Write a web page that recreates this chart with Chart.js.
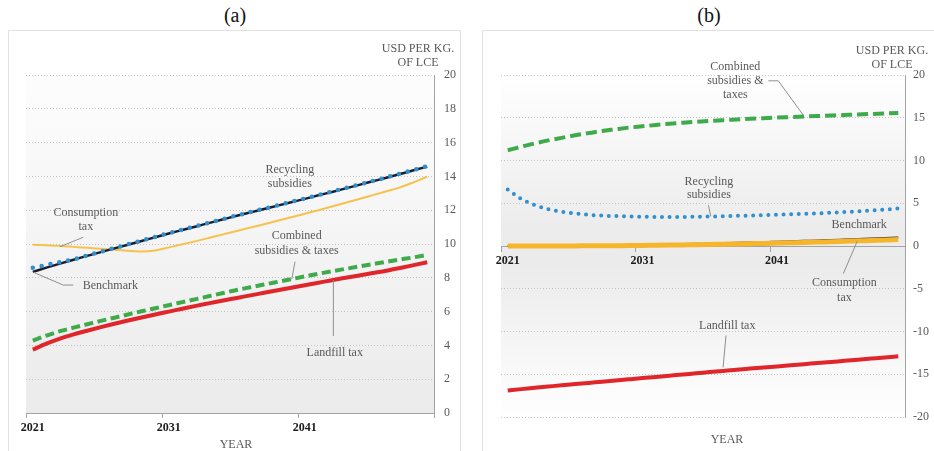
<!DOCTYPE html>
<html>
<head>
<meta charset="utf-8">
<script src="https://cdn.jsdelivr.net/npm/chart.js@4.4.1/dist/chart.umd.min.js"></script>
<style>
  body { margin: 0; width: 934px; height: 451px; position: relative; overflow: hidden; background: #fff; font-family: 'Liberation Serif', 'Times New Roman', serif; }
  .box { position: absolute; top: 30px; width: 453px; height: 440px; border: 1px solid #e2e2e2; box-sizing: border-box; background: #fff; }
  canvas { position: absolute; top: 31px; }
  .ttl { position: absolute; top: 4px; width: 60px; text-align: center; font-size: 20px; color: #111; }
  .unit { position: absolute; width: 100px; text-align: center; font-size: 12px; line-height: 14px; color: #595959; }
  .xname { position: absolute; width: 60px; text-align: center; font-size: 12px; color: #595959; }
</style>
</head>
<body>
<div class="box" style="left:8px"></div>
<div class="box" style="left:482px; width:460px"></div>
<div class="ttl" style="left:205px">(a)</div>
<div class="ttl" style="left:679px">(b)</div>
<canvas id="chartA" width="452" height="420" style="left:9px"></canvas>
<canvas id="chartB" width="452" height="420" style="left:482px"></canvas>
<div class="unit" style="left:368px; top:41px">USD PER KG.<br>OF LCE</div>
<div class="unit" style="left:842px; top:43px">USD PER KG.<br>OF LCE</div>
<div class="xname" style="left:206px; top:437px">YEAR</div>
<div class="xname" style="left:697px; top:432px">YEAR</div>
<script>
const years = ['2021', '2022', '2023', '2024', '2025', '2026', '2027', '2028', '2029', '2030',
  '2031', '2032', '2033', '2034', '2035', '2036', '2037', '2038', '2039', '2040',
  '2041', '2042', '2043', '2044', '2045', '2046', '2047', '2048', '2049', '2050'];

// panel (a)
const benchA = [8.35, 8.6, 8.84, 9.07, 9.3, 9.52, 9.74, 9.96, 10.18, 10.4,
  10.62, 10.83, 11.04, 11.25, 11.46, 11.67, 11.87, 12.07, 12.27, 12.47,
  12.67, 12.88, 13.08, 13.29, 13.5, 13.71, 13.92, 14.14, 14.36, 14.58];
const recycA = [8.6, 8.76, 8.93, 9.1, 9.32, 9.54, 9.76, 9.98, 10.2, 10.42,
  10.64, 10.85, 11.06, 11.27, 11.48, 11.69, 11.89, 12.09, 12.29, 12.49,
  12.69, 12.9, 13.1, 13.31, 13.52, 13.73, 13.94, 14.16, 14.38, 14.6];
const consA = [9.95, 9.92, 9.88, 9.83, 9.78, 9.72, 9.66, 9.6, 9.56, 9.62,
  9.8, 9.98, 10.17, 10.37, 10.57, 10.77, 10.97, 11.17, 11.38, 11.58,
  11.79, 12.0, 12.22, 12.44, 12.66, 12.89, 13.12, 13.35, 13.65, 13.98];
const combA = [4.28, 4.58, 4.84, 5.05, 5.25, 5.45, 5.64, 5.83, 6.02, 6.2,
  6.38, 6.56, 6.74, 6.92, 7.1, 7.28, 7.44, 7.6, 7.76, 7.92,
  8.08, 8.24, 8.39, 8.53, 8.67, 8.81, 8.95, 9.08, 9.21, 9.35];
const landA = [3.75, 4.1, 4.4, 4.65, 4.87, 5.08, 5.28, 5.47, 5.65, 5.83,
  6.0, 6.17, 6.34, 6.5, 6.66, 6.81, 6.96, 7.11, 7.26, 7.41,
  7.56, 7.71, 7.86, 8.0, 8.14, 8.28, 8.42, 8.58, 8.75, 8.92];

// panel (b)
const benchB = [0, 0, 0, 0.01, 0.02, 0.03, 0.05, 0.07, 0.09, 0.11,
  0.13, 0.16, 0.19, 0.22, 0.25, 0.29, 0.33, 0.37, 0.41, 0.45,
  0.5, 0.55, 0.6, 0.65, 0.7, 0.76, 0.82, 0.88, 0.94, 1.0];
const recycB = [6.6, 5.5, 4.8, 4.3, 4.0, 3.8, 3.65, 3.55, 3.5, 3.45,
  3.42, 3.4, 3.4, 3.4, 3.42, 3.45, 3.48, 3.52, 3.56, 3.6,
  3.65, 3.7, 3.76, 3.82, 3.9, 3.97, 4.05, 4.15, 4.25, 4.4];
const consB = [0, 0, 0, 0, 0, 0.01, 0.02, 0.03, 0.04, 0.05,
  0.07, 0.09, 0.11, 0.13, 0.15, 0.18, 0.21, 0.24, 0.27, 0.3,
  0.34, 0.38, 0.42, 0.46, 0.5, 0.55, 0.6, 0.65, 0.7, 0.76];
const combB = [11.2, 11.6, 12.0, 12.35, 12.65, 12.95, 13.2, 13.45, 13.65, 13.85,
  14.0, 14.15, 14.3, 14.42, 14.53, 14.63, 14.72, 14.8, 14.88, 14.95,
  15.02, 15.08, 15.14, 15.2, 15.26, 15.32, 15.38, 15.44, 15.5, 15.56];
const landB = [-16.9, -16.74, -16.59, -16.44, -16.29, -16.15, -16.01, -15.87, -15.73, -15.59,
  -15.45, -15.31, -15.17, -15.03, -14.89, -14.75, -14.61, -14.47, -14.34, -14.21,
  -14.08, -13.95, -13.82, -13.69, -13.56, -13.43, -13.3, -13.17, -13.04, -12.9];

// callout labels, placed in data units: [category index, value]
const notesA = [
  ['Recycling', 18.9, 14.38], ['subsidies', 18.9, 13.55],
  ['Consumption', 3.9, 11.83], ['tax', 3.9, 11.0],
  ['Benchmark', 5.7, 7.51],
  ['Combined', 19.4, 10.47], ['subsidies & taxes', 19.4, 9.62],
  ['Landfill tax', 22.2, 3.55]
];
const leadersA = [
  [[3.71, 10.4], [2.0, 9.84]],
  [[0.04, 8.33], [2.24, 7.57], [2.98, 7.57]],
  [[19.28, 8.95], [19.04, 7.91]],
  [[22.1, 7.87], [22.1, 4.56]]
];
const notesB = [
  ['Combined', 16.9, 20.96], ['subsidies &', 16.9, 19.29], ['taxes', 16.9, 17.65],
  ['Recycling', 14.94, 7.49], ['subsidies', 14.94, 5.94],
  ['Benchmark', 26.1, 2.42],
  ['Consumption', 25.0, -4.33], ['tax', 25.0, -6.04],
  ['Landfill tax', 16.3, -9.29]
];
const leadersB = [
  [[19.35, 19.32], [20.09, 19.32], [21.95, 15.3]],
  [[14.9, 4.77], [15.08, 3.48]],
  [[25.95, 0.55], [24.92, -3.23]],
  [[16.21, -10.46], [15.99, -14.2]]
];

const serif = "'Liberation Serif', 'Times New Roman', serif";
const gray = '#595959';

const notePlugin = {
  id: 'notes',
  afterDatasetsDraw(chart, args, opts) {
    const { ctx, scales } = chart;
    ctx.save();
    ctx.strokeStyle = '#8f8f8f';
    ctx.lineWidth = 1;
    opts.leaders.forEach((pts) => {
      ctx.beginPath();
      pts.forEach((p, k) => {
        const px = scales.x.getPixelForValue(p[0]);
        const py = scales.y.getPixelForValue(p[1]);
        if (k === 0) ctx.moveTo(px, py); else ctx.lineTo(px, py);
      });
      ctx.stroke();
    });
    ctx.font = '12px ' + serif;
    ctx.fillStyle = gray;
    ctx.textAlign = 'center';
    ctx.textBaseline = 'middle';
    opts.notes.forEach((n) => {
      ctx.fillText(n[0], scales.x.getPixelForValue(n[1]), scales.y.getPixelForValue(n[2]));
    });
    ctx.restore();
  }
};

const bgPlugin = {
  id: 'bg',
  beforeDraw(chart, args, opts) {
    const { ctx, chartArea: a } = chart;
    const g = ctx.createLinearGradient(0, a.top, 0, a.bottom);
    opts.stops.forEach((s) => g.addColorStop(s[0], s[1]));
    ctx.save();
    ctx.fillStyle = g;
    ctx.fillRect(a.left, a.top, a.right - a.left, a.bottom - a.top);
    ctx.restore();
  }
};

const line = (data, color, width, extra) => Object.assign({
  data: data,
  borderColor: color,
  borderWidth: width,
  pointRadius: 0,
  fill: false,
  cubicInterpolationMode: 'monotone'
}, extra || {});

const xAxis = (pos) => ({
  type: 'category',
  position: pos,
  offset: true,
  afterFit: (s) => { s.height = pos === 'bottom' ? 38 : 0; },
  grid: {
    offset: true,
    drawOnChartArea: false,
    tickLength: 5,
    tickColor: (c) => (c.index === undefined || c.index % 10 === 0) ? '#a3a3a3' : 'rgba(0,0,0,0)'
  },
  border: { color: '#a3a3a3', width: 1 },
  ticks: {
    autoSkip: false,
    maxRotation: 0,
    padding: 3,
    color: '#1a1a1a',
    font: { family: serif, size: 12, weight: 'bold' },
    callback: (v, i) => (i % 10 === 0 ? years[i] : '')
  }
});

const yAxis = (min, max, step, width, pad) => ({
  position: 'right',
  min: min,
  max: max,
  afterFit: (s) => { s.width = width; },
  grid: { color: '#c4c4c4', drawTicks: false, lineWidth: 1 },
  border: { color: '#a3a3a3', width: 1, dash: [1, 2] },
  ticks: {
    stepSize: step,
    padding: pad,
    crossAlign: 'near',
    color: gray,
    font: { family: serif, size: 12 }
  }
});

const baseOptions = {
  responsive: false,
  animation: false,
  events: [],
  plugins: { legend: { display: false }, tooltip: { enabled: false } }
};

new Chart(document.getElementById('chartA'), {
  type: 'line',
  data: {
    labels: years,
    datasets: [
      line(recycA, '#2f8fcf', 4.5, { borderDash: [0, 9], borderCapStyle: 'round' }),
      line(benchA, '#1b1d2c', 2.5),
      line(consA, '#f5c24f', 2),
      line(combA, '#3eaa4a', 4, { borderDash: [9, 4.5] }),
      line(landA, '#e0262b', 4)
    ]
  },
  options: Object.assign({}, baseOptions, {
    layout: { padding: { left: 17, top: 44, right: 0, bottom: 0 } },
    scales: {
      x: xAxis('bottom'),
      y: yAxis(0, 20, 2, 27, 10)
    },
    plugins: Object.assign({}, baseOptions.plugins, {
      bg: { stops: [[0, '#fdfdfd'], [1, '#ebebeb']] },
      notes: { notes: notesA, leaders: leadersA }
    })
  }),
  plugins: [bgPlugin, notePlugin]
});

new Chart(document.getElementById('chartB'), {
  type: 'line',
  data: {
    labels: years,
    datasets: [
      line(recycB, '#2f8fcf', 4, { borderDash: [0, 7.6], borderCapStyle: 'round' }),
      line(combB, '#3eaa4a', 4, { borderDash: [11, 5] }),
      line(consB, '#f6b62c', 5),
      line(benchB, '#1b1d2c', 2),
      line(landB, '#e0262b', 4)
    ]
  },
  options: Object.assign({}, baseOptions, {
    layout: { padding: { left: 19, top: 44, right: 0, bottom: 34 } },
    scales: {
      x: xAxis({ y: 0 }),
      y: yAxis(-20, 20, 5, 29, 8)
    },
    plugins: Object.assign({}, baseOptions.plugins, {
      bg: { stops: [[0, '#ffffff'], [0.45, '#ececec'], [0.55, '#ebebeb'], [0.8, '#f6f6f6'], [1, '#ffffff']] },
      notes: { notes: notesB, leaders: leadersB }
    })
  }),
  plugins: [bgPlugin, notePlugin]
});
</script>
</body>
</html>
